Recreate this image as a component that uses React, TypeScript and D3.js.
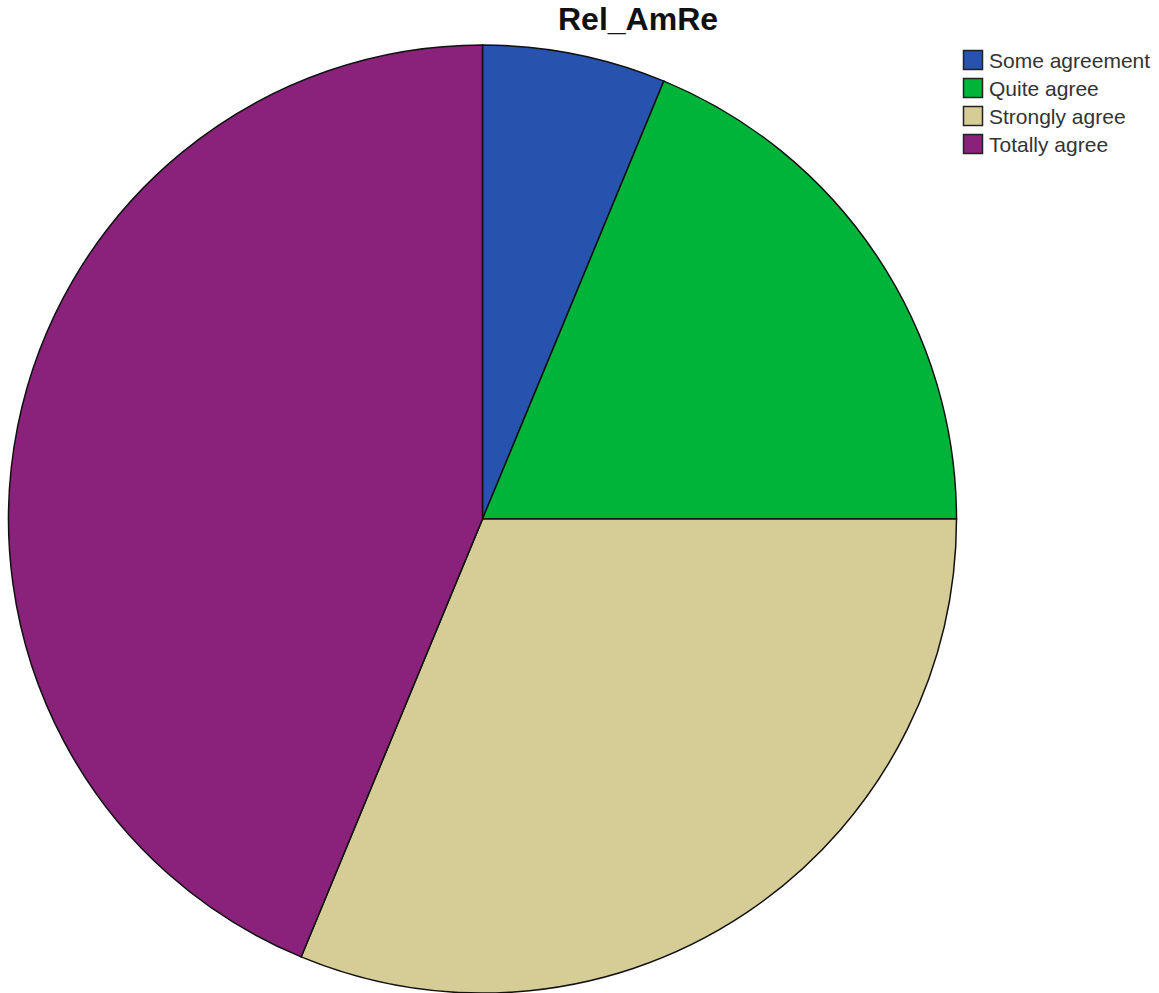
import React from "react";
import * as d3 from "d3";

const categories = ["Some agreement", "Quite agree", "Strongly agree", "Totally agree"];
const values = [1, 3, 5, 7];
const colors = ["#2752ae", "#00b43a", "#d5cd95", "#8a227b"];
const title = "Rel_AmRe";

export default function App() {
  const W = 1159, H = 993;
  const cx = 482.5, cy = 519, r = 474;
  const pie = d3.pie<number>().sort(null).value((d) => d)(values);
  const arc = d3.arc<d3.PieArcDatum<number>>().innerRadius(0).outerRadius(r);
  return (
    <svg width={W} height={H} style={{ position: "absolute", left: 0, top: 0, background: "#fff" }}>
      <text x={638} y={30} textAnchor="middle" fontFamily="Liberation Sans, Arial, sans-serif" fontWeight="bold" fontSize={32} fill="#111">
        {title}
      </text>
      <g transform={`translate(${cx},${cy})`}>
        {pie.map((p, i) => (
          <path key={i} d={arc(p) || ""} fill={colors[i]} stroke="#111" strokeWidth={1.5} />
        ))}
      </g>
      <g transform="translate(963,50)">
        {categories.map((c, i) => (
          <g key={c} transform={`translate(0,${i * 28})`}>
            <rect x={0.5} y={0.5} width={19} height={19} fill={colors[i]} stroke="#222" strokeWidth={1.5} />
            <text x={26} y={18} fontFamily="Liberation Sans, Arial, sans-serif" fontSize={21} fill="#333">
              {c}
            </text>
          </g>
        ))}
      </g>
    </svg>
  );
}
